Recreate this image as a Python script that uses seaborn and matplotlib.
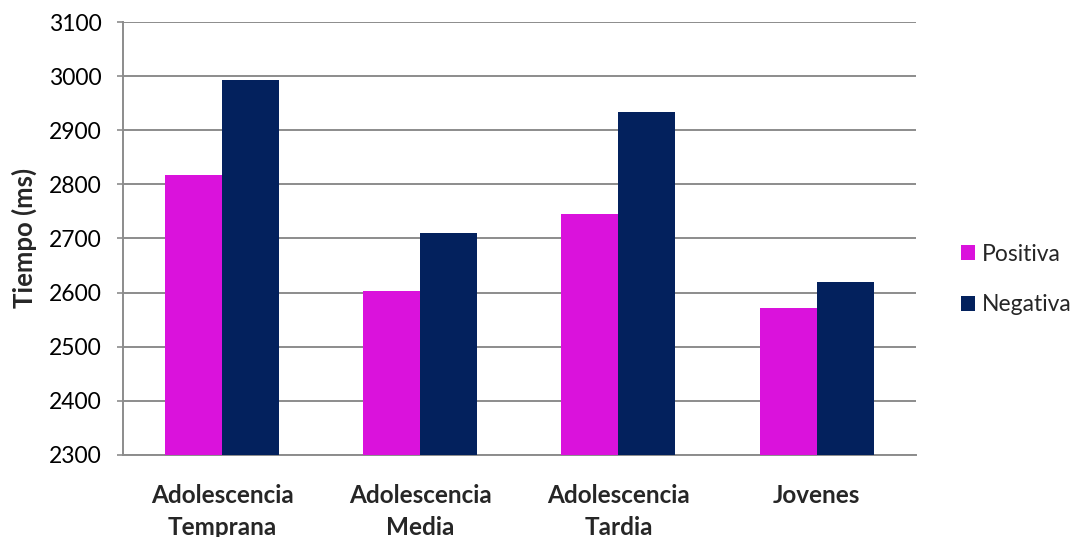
import matplotlib
matplotlib.use("Agg")
import matplotlib.pyplot as plt
import seaborn as sns
import pandas as pd

categories = ["Adolescencia\nTemprana", "Adolescencia\nMedia", "Adolescencia\nTardia", "Jovenes"]
positiva = [2818, 2602, 2745, 2572]
negativa = [2992, 2710, 2934, 2620]
series_names = ["Positiva", "Negativa"]
colors = ["#DA12DC", "#03215D"]
yticks = [2300, 2400, 2500, 2600, 2700, 2800, 2900, 3000, 3100]

df = pd.DataFrame({
    "grupo": categories * 2,
    "valencia": [series_names[0]] * len(categories) + [series_names[1]] * len(categories),
    "tiempo": positiva + negativa,
})

sns.set_theme(style="white")
plt.rcParams["font.family"] = ["Lato", "DejaVu Sans"]

fig = plt.figure(figsize=(10.8, 5.37), dpi=100)
ax = fig.add_axes([0.1139, 0.153, 0.734, 0.806])

sns.barplot(data=df, x="grupo", y="tiempo", hue="valencia", palette=colors,
            width=0.575, saturation=1, linewidth=0, ax=ax, zorder=3)

ax.set_ylim(2300, 3100)
ax.set_yticks(yticks)
ax.set_yticklabels([str(t) for t in yticks], fontsize=16.5, color="#000000")
ax.yaxis.grid(True, color="#8c8c8c", linewidth=1.4, zorder=0)
ax.set_axisbelow(True)
ax.set_xlim(-0.5, 3.5)

ax.tick_params(axis="y", which="both", left=True, length=4.5, width=1.2, color="#8c8c8c", pad=11)
ax.tick_params(axis="x", which="both", bottom=False, pad=15)
for lab in ax.get_xticklabels():
    lab.set_fontsize(17.5)
    lab.set_fontweight("bold")
    lab.set_linespacing(1.45)

for side in ["top", "right"]:
    ax.spines[side].set_visible(False)
for side in ["left", "bottom"]:
    ax.spines[side].set_color("#8c8c8c")
    ax.spines[side].set_linewidth(1.4)

ax.set_xlabel("")
ax.set_ylabel("Tiempo (ms)", fontsize=18.5, fontweight="bold", labelpad=8)

leg = ax.legend(loc="center left", bbox_to_anchor=(1.045, 0.405), frameon=False,
                fontsize=16.5, handlelength=0.62, handleheight=0.62,
                handletextpad=0.3, labelspacing=1.3, borderaxespad=0)

fig.savefig("out.png", dpi=100)
